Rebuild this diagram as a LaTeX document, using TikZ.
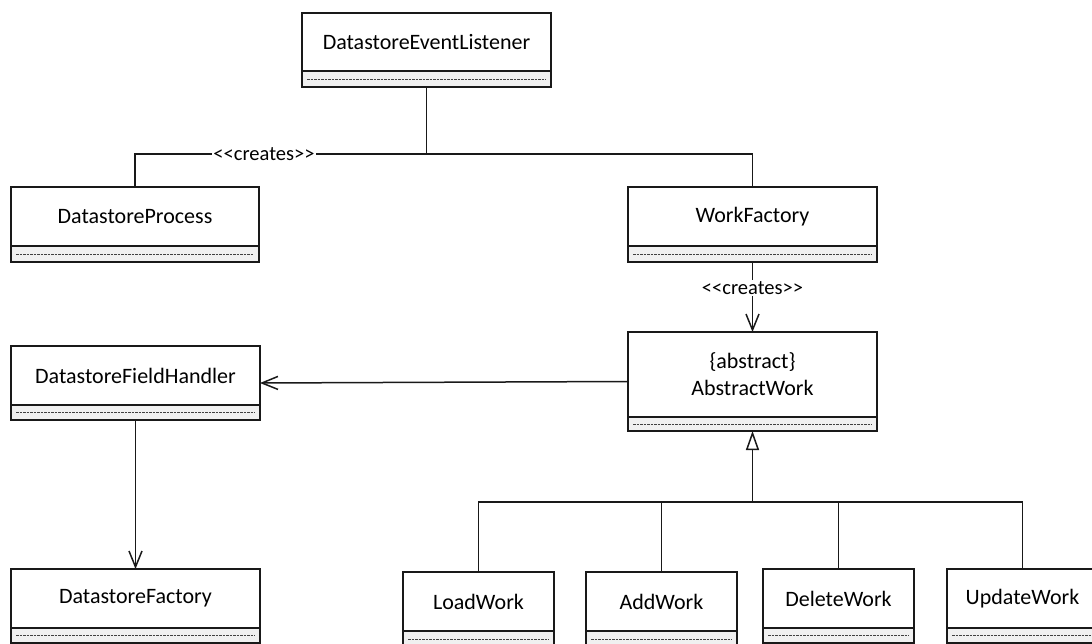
\documentclass[tikz,border=0pt]{standalone}
\usepackage{fontspec}
\setmainfont{Carlito}
\usetikzlibrary{arrows.meta}

% A UML class: name compartment above a grey, empty operations compartment.
% #1 name, #2 x, #3 y (top left), #4 width, #5 name height, #6 ops height, #7 text
\newcommand\umlclass[7]{%
  \node[namepart, minimum width=#4pt, minimum height=#5pt, anchor=north west] (#1) at (#2,#3) {#7};
  \node[opspart, minimum width=#4pt, minimum height=#6pt, anchor=north west] (#1-ops) at (#1.south west) {};
  \draw[opsdash] ([xshift=5pt]#1-ops.west) -- ([xshift=-5pt]#1-ops.east);
}
\newcommand\stereotype[1]{\mbox{<}\mbox{<}#1\mbox{>}\mbox{>}}

\begin{document}
\begin{tikzpicture}[x=1pt,y=-1pt,
  boxline/.style={line width=1.4pt, draw=black!90, outer sep=0pt},
  namepart/.style={boxline, fill=white, inner sep=0pt, align=center,
    font=\fontsize{22}{27}\selectfont},
  opspart/.style={boxline, fill=gray!12, inner sep=0pt},
  opsdash/.style={line width=0.8pt, draw=black!75, dash pattern=on 2.5pt off 1pt},
  link/.style={line width=1.5pt, draw=black!90},
  depends/.style={link, -{Straight Barb[length=16pt,width=13pt]}},
  inherits/.style={link, -{Triangle[open,length=19pt,width=13pt,fill=white]}},
  stereo/.style={fill=white, inner sep=1pt, font=\fontsize{20.5}{24}\selectfont}
]
\clip (0,0) rectangle (1092,644);

% classes
\umlclass{del}{302}{13}{249}{58}{16}{DatastoreEventListener}
\umlclass{dp}{11}{187}{248}{59}{16}{DatastoreProcess}
\umlclass{wf}{628}{187}{249}{59}{16}{WorkFactory}
\umlclass{dfh}{11}{346}{249}{59}{15}{DatastoreFieldHandler}
\umlclass{aw}{628}{332}{249}{85}{14}{\{abstract\}\\AbstractWork}
\umlclass{df}{11}{569}{249}{59}{15}{DatastoreFactory}
\umlclass{lw}{403}{572}{151}{59}{16}{LoadWork}
\umlclass{adw}{586}{572}{151}{59}{16}{AddWork}
\umlclass{dw}{763}{569}{151}{59}{15}{DeleteWork}
\umlclass{uw}{947}{569}{151}{59}{15}{UpdateWork}

% routing levels
\coordinate (topbus) at (0,154);
\coordinate (subbus) at (0,502);
\coordinate (fhrow) at (0,381.5);
\coordinate (fhend) at (0,383);

% DatastoreEventListener creates DatastoreProcess and WorkFactory
\draw[link] (del-ops.south) -- (del-ops.south |- topbus);
\draw[link] (dp.north) -- (dp.north |- topbus) -- (wf.north |- topbus) -- (wf.north);
\node[stereo] (c1) at (264,154) {\stereotype{creates}};

% WorkFactory creates AbstractWork
\draw[depends] (wf-ops.south) -- (aw.north);
\node[stereo] (c2) at (752.5,288) {\stereotype{creates}};

% AbstractWork uses DatastoreFieldHandler, which uses DatastoreFactory
\draw[depends] (aw.west |- fhrow) -- (dfh.east |- fhend);
\draw[depends] (dfh-ops.south) -- (df.north);

% generalisation of the concrete works
\draw[link] (lw.north) -- (lw.north |- subbus) -- (uw.north |- subbus) -- (uw.north);
\draw[link] (adw.north) -- (adw.north |- subbus);
\draw[link] (dw.north) -- (dw.north |- subbus);
\draw[inherits] (aw-ops.south |- subbus) -- (aw-ops.south);
\end{tikzpicture}
\end{document}
